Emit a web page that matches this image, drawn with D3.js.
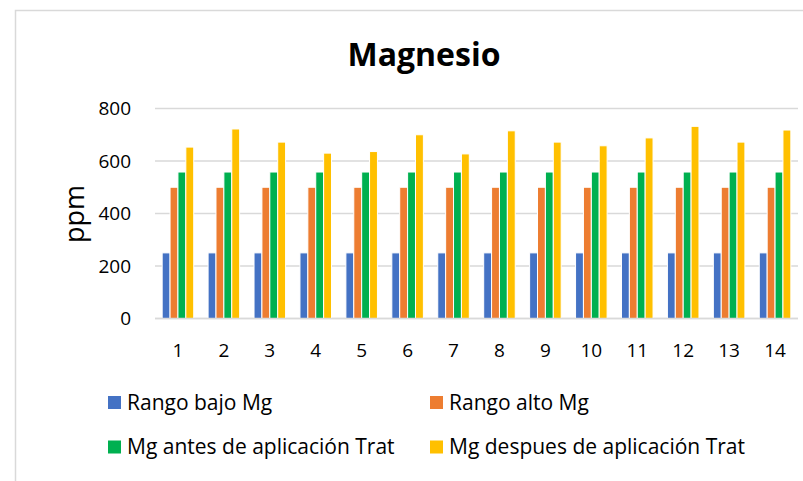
<!DOCTYPE html>
<html><head><meta charset="utf-8">
<script src="https://cdn.jsdelivr.net/npm/d3@7"></script>
<style>body{margin:0;background:#fff}svg{display:block}text{font-family:"Open Sans",sans-serif;fill:#000}</style>
</head><body><svg id="c" width="803" height="481"></svg>
<script>
const categories = ["1","2","3","4","5","6","7","8","9","10","11","12","13","14"];
const seriesNames = ["Rango bajo Mg","Rango alto Mg","Mg antes de aplicación Trat","Mg despues de aplicación Trat"];
const rangoBajo = [250,250,250,250,250,250,250,250,250,250,250,250,250,250];
const rangoAlto = [500,500,500,500,500,500,500,500,500,500,500,500,500,500];
const mgAntes = [558,558,558,558,558,558,558,558,558,558,558,558,558,558];
const mgDespues = [653,722,672,630,636,700,627,715,672,658,688,732,672,718];
const yTicks = [0,200,400,600,800];
const colors = ["#4472C4","#ED7D31","#00B050","#FFC000"];

const seriesData = [rangoBajo, rangoAlto, mgAntes, mgDespues];
const svg = d3.select("#c");

// chart border
svg.append("path").attr("d","M15.5,481V10.5H803").attr("fill","none").attr("stroke","#d9d9d9").attr("stroke-width",1.5);

const x0 = d3.scaleBand().domain(categories).range([155,798]).paddingInner(0.313).paddingOuter(0.156);
const x1 = d3.scaleBand().domain(d3.range(seriesNames.length)).range([0,x0.bandwidth()]);
const y = d3.scaleLinear().domain([0,800]).range([318.5,108.5]);

// gridlines
svg.append("g").selectAll("line").data(yTicks).join("line")
  .attr("x1",155).attr("x2",798).attr("y1",d=>y(d)).attr("y2",d=>y(d))
  .attr("stroke","#d9d9d9").attr("stroke-width",1.5);

// y tick labels
svg.append("g").selectAll("text").data(yTicks).join("text")
  .attr("x",131).attr("y",d=>y(d)).attr("dy","0.35em").attr("text-anchor","end")
  .attr("font-size",19).text(d=>d);

// bars
const g = svg.append("g");
seriesData.forEach((vals,si)=>{
  g.selectAll(".s"+si).data(vals).join("rect")
    .attr("x",(d,i)=>x0(categories[i])+x1(si))
    .attr("width",x1.bandwidth())
    .attr("y",d=>y(d)).attr("height",d=>y(0)-y(d))
    .attr("fill",colors[si]).attr("stroke","#fff").attr("stroke-width",1);
});

// x axis line redraw on top
svg.append("line").attr("x1",155).attr("x2",798).attr("y1",y(0)).attr("y2",y(0))
  .attr("stroke","#d9d9d9").attr("stroke-width",1.5);

// x labels
svg.append("g").selectAll("text").data(categories).join("text")
  .attr("x",d=>x0(d)+x0.bandwidth()/2).attr("y",356.5).attr("text-anchor","middle")
  .attr("font-size",19).text(d=>d);

// title
svg.append("text").attr("x",424).attr("y",65.5).attr("text-anchor","middle")
  .attr("font-size",32).attr("font-weight","bold").text("Magnesio");

// y axis title
svg.append("text").attr("transform","translate(84,214) rotate(-90)").attr("text-anchor","middle")
  .attr("font-size",27).text("ppm");

// legend
const legPos = [[108,409.5],[430,409.5],[108,454],[430,454]];
const leg = svg.append("g").selectAll("g").data(seriesNames).join("g")
  .attr("transform",(d,i)=>`translate(${legPos[i][0]},${legPos[i][1]})`);
leg.append("rect").attr("x",0).attr("y",-13.5).attr("width",13).attr("height",13).attr("fill",(d,i)=>colors[i]);
leg.append("text").attr("x",19).attr("y",0).attr("font-size",21).text(d=>d);
</script></body></html>
